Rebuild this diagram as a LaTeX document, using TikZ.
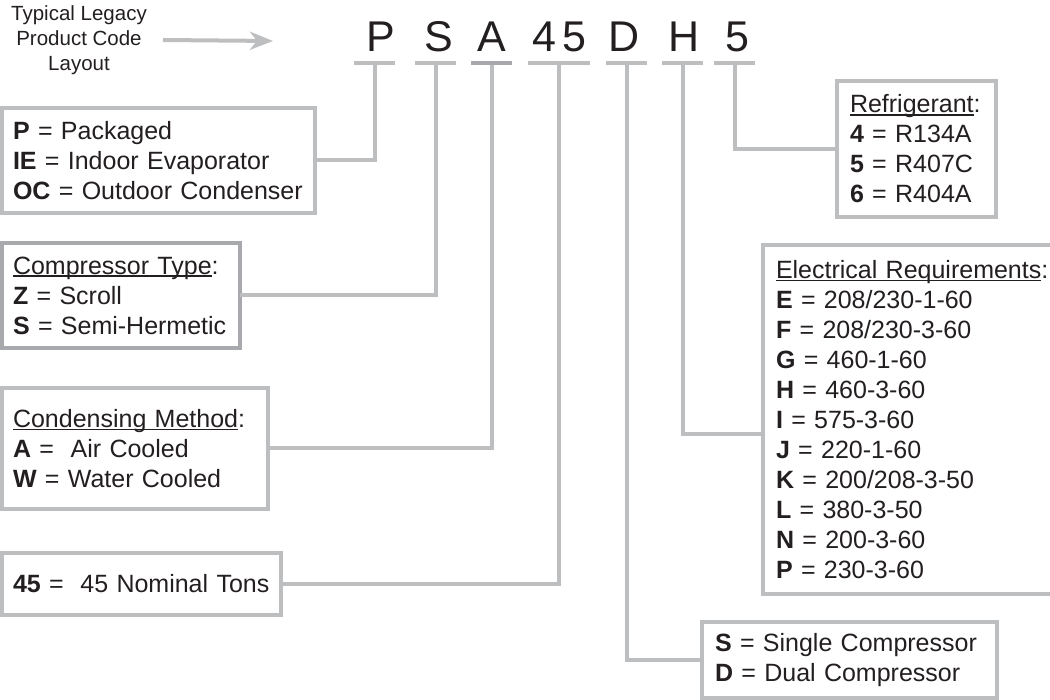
\documentclass[tikz,border=0pt]{standalone}
\usepackage{fontspec}
\setmainfont{Liberation Sans}
\usetikzlibrary{arrows.meta, positioning}
\definecolor{linegray}{HTML}{BDBEC0}
\definecolor{bargray}{HTML}{A7A9AC}
\definecolor{inkgray}{HTML}{231F20}
% heading underline, set close under the baseline
\newcommand{\keyhead}[1]{\setbox0\hbox{#1}\rlap{\rule[-2.6pt]{\wd0}{1.3pt}}\box0}

\begin{document}
\begin{tikzpicture}[
  x=1pt, y=-1pt,
  color=inkgray,
  keybox/.style={draw=linegray, line width=4pt, fill=white, anchor=north west, align=left, inner xsep=11pt, inner ysep=0pt, outer sep=0pt, font=\fontsize{25}{30}\selectfont},
  rightbox/.style={keybox, inner xsep=13pt},
  letter/.style={anchor=base, inner sep=0pt, font=\fontsize{43}{50}\selectfont},
  tick/.style={fill=linegray, minimum width=41pt, minimum height=4pt, inner sep=0pt, outer sep=0pt},
  link/.style={draw=linegray, line width=4pt},
  pointer/.style={draw=linegray, line width=4pt, -{Stealth[length=23pt, width=18pt, inset=7pt]}}
]
  \useasboundingbox (0,0) rectangle (1050,700);

  % title and the code letters
  \node[align=center, inner sep=0pt, font=\fontsize{20.5}{25}\selectfont] (hdr) at (79,40) {Typical Legacy\\Product Code\\Layout};
  \coordinate (hdrtip) at (273,41);
  \draw[pointer] ([xshift=16pt]hdr.east) -- (hdrtip);

  \node[letter] (lp) at (381,52) {P};
  \node[letter] (ls) at (439,52) {S};
  \node[letter] (la) at (492,52) {A};
  \node[letter] (l4) at (544,52) {4};
  \node[letter] (l5) at (574,52) {5};
  \node[letter] (ld) at (624,52) {D};
  \node[letter] (lh) at (684,52) {H};
  \node[letter] (lr) at (737,52) {5};

  \node[tick] (pbar) at (374.5,63) {};
  \node[tick] (sbar) at (435.5,63) {};
  \node[tick, fill=bargray] (abar) at (491.5,63) {};
  \node[tick, minimum width=62pt] (tbar) at (559,63) {};
  \node[tick] (dbar) at (626.5,63) {};
  \node[tick] (hbar) at (682.5,63) {};
  \node[tick] (rbar) at (734.5,63) {};

  % key boxes
  \node[keybox, text width=291pt, minimum height=105pt] (pack) at (2,108)
    {\textbf{P} = Packaged\\\textbf{IE} = Indoor Evaporator\\\textbf{OC} = Outdoor Condenser};
  \node[keybox, draw=bargray, text width=216pt, minimum height=105pt] (comp) at (2,243)
    {\keyhead{Compressor Type}:\\\textbf{Z} = Scroll\\\textbf{S} = Semi-Hermetic};
  \node[keybox, text width=244pt, minimum height=121pt] (cond) at (2,388)
    {\keyhead{Condensing Method}:\\\textbf{A} =\ \ Air Cooled\\\textbf{W} = Water Cooled};
  \node[keybox, text width=257pt, minimum height=62pt] (tons) at (2,553)
    {\textbf{45} =\ \ 45 Nominal Tons};
  \node[rightbox, text width=133pt, minimum height=136pt] (refr) at (837,81)
    {\keyhead{Refrigerant}:\\\textbf{4} = R134A\\\textbf{5} = R407C\\\textbf{6} = R404A};
  \node[rightbox, text width=274pt, minimum height=349pt] (elec) at (763,245)
    {\keyhead{Electrical Requirements}:\\
     \textbf{E} = 208/230-1-60\\
     \textbf{F} = 208/230-3-60\\
     \textbf{G} = 460-1-60\\
     \textbf{H} = 460-3-60\\
     \textbf{I} = 575-3-60\\
     \textbf{J} = 220-1-60\\
     \textbf{K} = 200/208-3-50\\
     \textbf{L} = 380-3-50\\
     \textbf{N} = 200-3-60\\
     \textbf{P} = 230-3-60};
  \node[rightbox, text width=269pt, minimum height=76pt] (dual) at (702,622)
    {\textbf{S} = Single Compressor\\\textbf{D} = Dual Compressor};

  % connectors
  \draw[link] (pbar.south) |- (pack.east);
  \draw[link] (sbar.south) |- (comp.east);
  \draw[link] (abar.south) |- (cond.east);
  \draw[link] (tbar.south) |- (tons.east);
  \draw[link] (dbar.south) |- (dual.west);
  \draw[link] (hbar.south) |- ([yshift=-14.5pt]elec.west);
  \draw[link] (rbar.south) |- (refr.west);
\end{tikzpicture}
\end{document}
